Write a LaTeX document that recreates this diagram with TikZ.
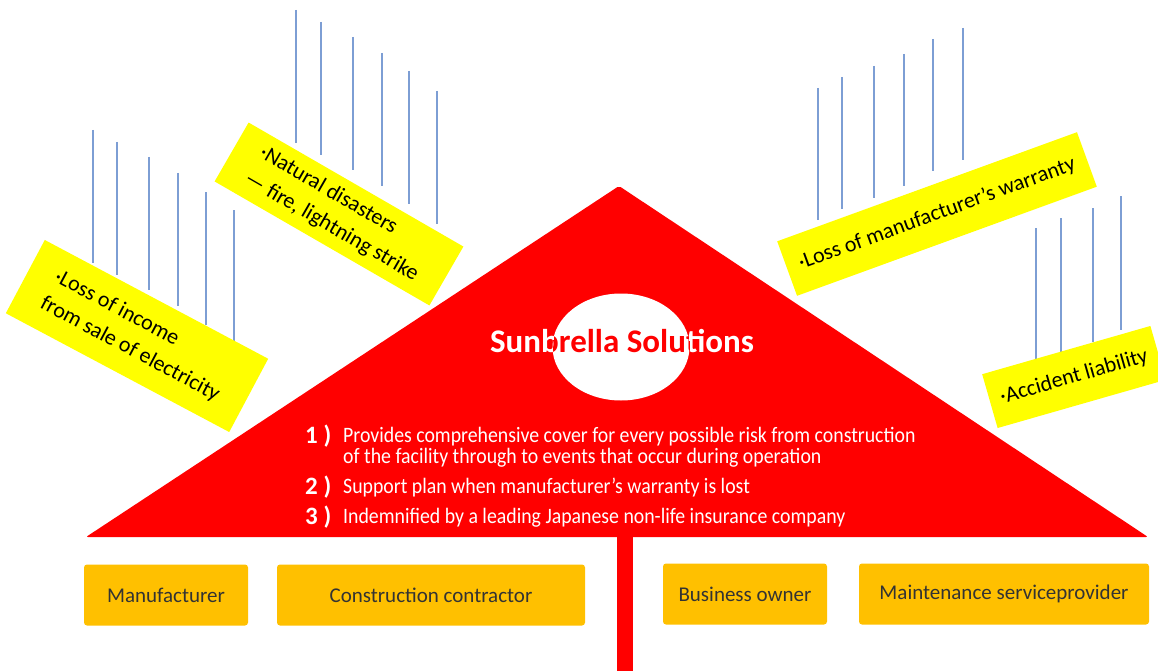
\documentclass[tikz,border=0pt]{standalone}
\usepackage{fontspec}
\setmainfont{Carlito}
\newfontfamily\narrowfont[FakeStretch=0.9]{Carlito}
\usetikzlibrary{shapes.geometric}

\definecolor{umbrellared}{RGB}{255,0,0}
\definecolor{tagyellow}{RGB}{255,255,0}
\definecolor{partygold}{RGB}{255,192,0}
\definecolor{rainblue}{RGB}{125,158,212}

\begin{document}
\begin{tikzpicture}[x=1pt, y=-1pt]

\tikzstyle{tag} = [rectangle, fill=tagyellow, text=black, align=left, inner sep=2pt, font=\fontsize{22}{30}\selectfont]
\tikzstyle{party} = [rectangle, rounded corners=3pt, fill=partygold, minimum height=61, text=black!80, font=\fontsize{21}{25}\selectfont]
\tikzstyle{rain} = [rainblue, line width=1.8pt]
\tikzstyle{point} = [anchor=base west, inner sep=0pt, text=white, font=\narrowfont\fontsize{22}{24}\selectfont]
\tikzstyle{num} = [anchor=base west, inner sep=0pt, text=white, font=\bfseries\fontsize{25}{27}\selectfont]
\tikzstyle{headline} = [anchor=base, inner sep=0pt, font=\bfseries\fontsize{33}{37}\selectfont]

\useasboundingbox (0,0) rectangle (1158,671);

% the umbrella
\coordinate (tip) at (619,186);
\coordinate (rimL) at (86,537);
\coordinate (rimR) at (1148,537);
\fill [umbrellared, rounded corners=2pt] (rimL) -- (tip) -- (rimR) -- cycle;
\fill [umbrellared] (617,535) rectangle (633,671);

\node (hole) [ellipse, fill=white, minimum width=137, minimum height=107, inner sep=0pt] at (621,347) {};
\node (title) [headline, text=white] at (622,352) {Sunbrella Solutions};
\begin{scope}
\clip (hole.center) ellipse [x radius=68.5, y radius=53.5];
\node [headline, text=umbrellared] at (title.base) {Sunbrella Solutions};
\end{scope}

\node (n1) [num] at (305,443) {1 )};
\node (p1) [point] at (343,442) {Provides comprehensive cover for every possible risk from construction};
\node (p1b) [point] at (343,463) {of the facility through to events that occur during operation};
\node (n2) [num] at (305,494) {2 )};
\node (p2) [point] at (343,493) {Support plan when manufacturer’s warranty is lost};
\node (n3) [num] at (305,524) {3 )};
\node (p3) [point] at (343,523) {Indemnified by a leading Japanese non-life insurance company};

% rain
\foreach \x/\t in {93/130, 117/142, 149/157, 178/173, 206/192, 234/210}
  \draw [rain] (\x,\t) -- ++(0,133);
\foreach \x/\t in {296/10, 321/22, 353/37, 382/53, 409/71, 437/91}
  \draw [rain] (\x,\t) -- ++(0,133);
\foreach \x/\t in {818/88, 842/77, 874/66, 904/54, 933/39, 963/28}
  \draw [rain] (\x,\t) -- ++(0,132);
\foreach \x/\t in {1036/228, 1061/218, 1093/208, 1121/196}
  \draw [rain] (\x,\t) -- ++(0,134);

% risks
\node (income) [tag, rotate=-28, minimum width=253, minimum height=83] at (137,336) {·Loss of income\\from sale of electricity};
\node (disaster) [tag, rotate=-30, minimum width=248, minimum height=68] at (339,214) {·Natural disasters\\— fire, lightning strike};
\node (warranty) [tag, rotate=20, minimum width=319, minimum height=58] at (937,214) {·Loss of manufacturer’s warranty};
\node (liability) [tag, rotate=16, minimum width=175, minimum height=56] at (1074,377) {·Accident liability};

% parties
\node (maker) [party, minimum width=164] at (166,595) {Manufacturer};
\node (builder) [party, minimum width=308] at (431,595) {Construction contractor};
\node (owner) [party, minimum width=164] at (745,594) {Business owner};
\node (upkeep) [party, minimum width=290] at (1004,594) {Maintenance serviceprovider};

\end{tikzpicture}
\end{document}
